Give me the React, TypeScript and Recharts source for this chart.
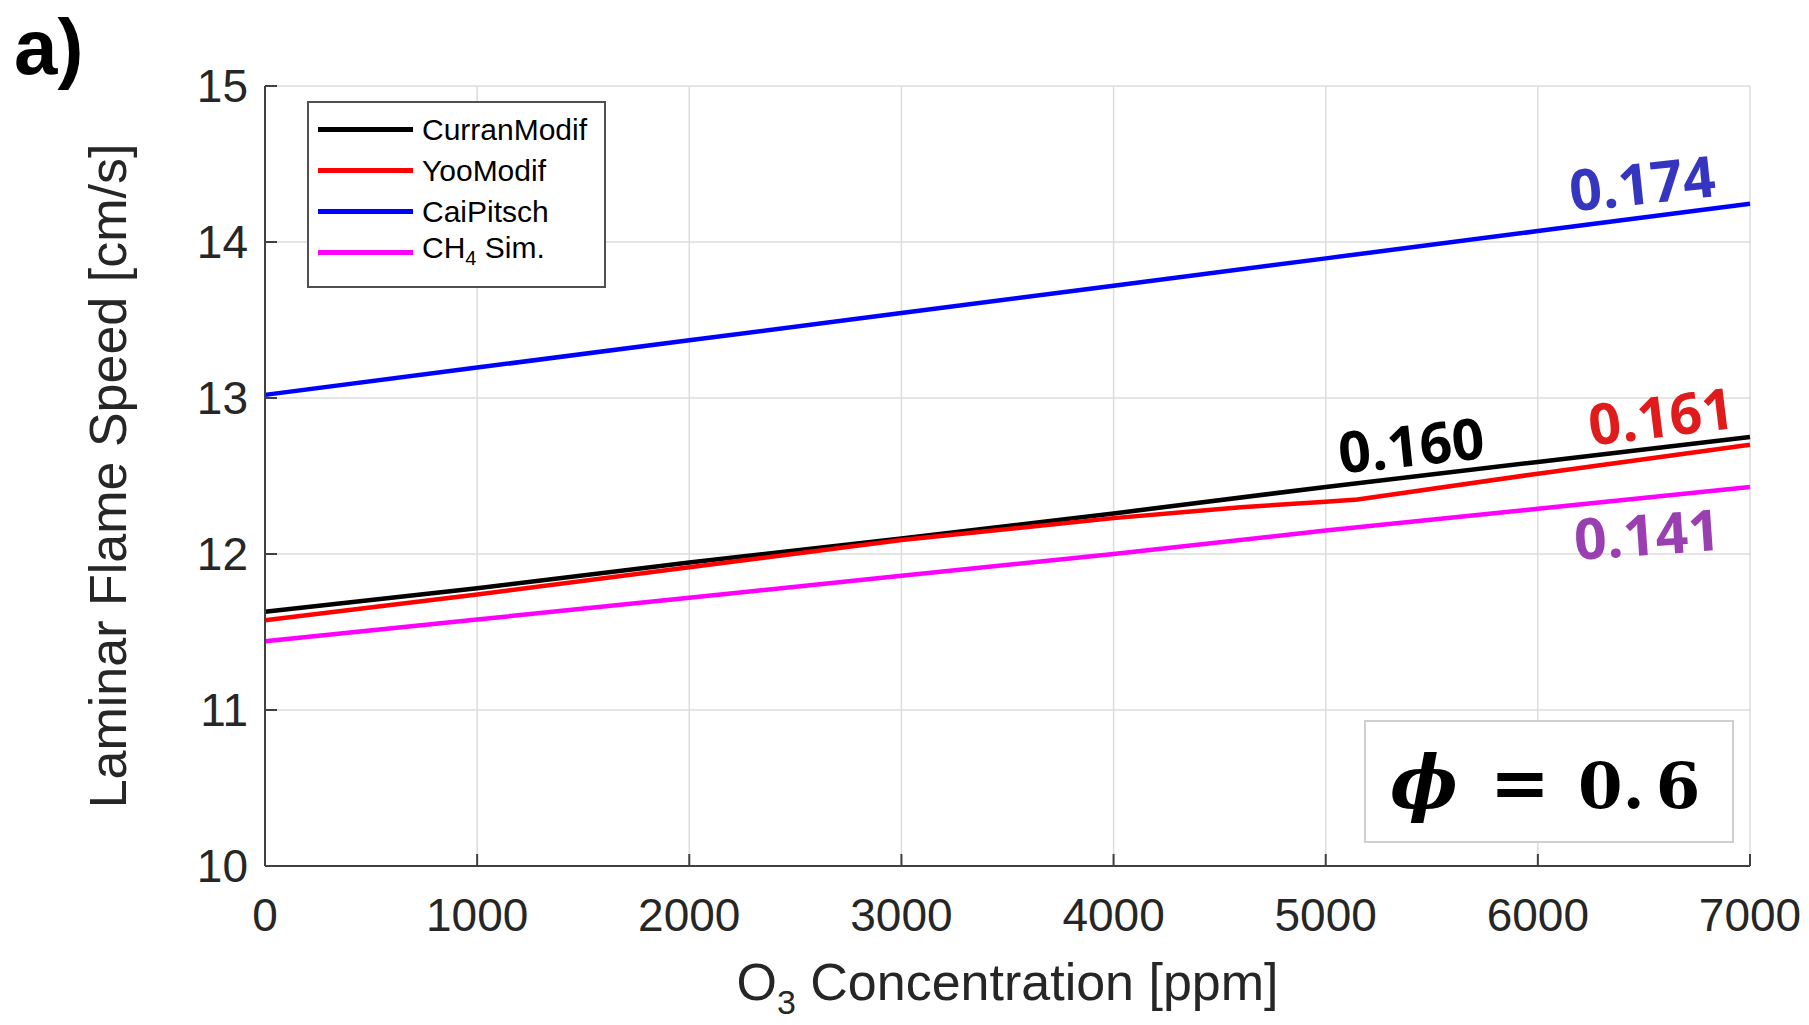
import { LineChart, Line, XAxis, YAxis, CartesianGrid, Legend, Label } from 'recharts';

// O3 concentration [ppm] and laminar flame speed [cm/s]
const o3Ppm = [0, 1000, 2000, 3000, 4000, 5000, 6000, 7000];
const curranModif = [11.63, 11.78, 11.945, 12.1, 12.26, 12.43, 12.59, 12.75];
const caiPitsch = [13.02, 13.195, 13.37, 13.545, 13.72, 13.895, 14.07, 14.245];
const ch4Sim = [11.44, 11.58, 11.72, 11.86, 12.0, 12.15, 12.29, 12.43];
const yooPpm = [0, 1000, 2000, 3000, 4000, 4600, 5000, 5150, 6000, 7000];
const yooModif = [11.575, 11.74, 11.915, 12.09, 12.23, 12.3, 12.335, 12.35, 12.515, 12.7];

const xTicks = [0, 1000, 2000, 3000, 4000, 5000, 6000, 7000];
const yTicks = [10, 11, 12, 13, 14, 15];

const seriesNames = ['CurranModif', 'YooModif', 'CaiPitsch', 'CH4 Sim.'];
const seriesColors = ['#000000', '#ff0000', '#0000ff', '#ff00ff'];
const slopeLabels = ['0.160', '0.161', '0.174', '0.141'];

const toPoints = (xs: number[], ys: number[]) => xs.map((x, i) => ({ x, y: ys[i] }));

const curranData = toPoints(o3Ppm, curranModif);
const yooData = toPoints(yooPpm, yooModif);
const caiData = toPoints(o3Ppm, caiPitsch);
const ch4Data = toPoints(o3Ppm, ch4Sim);

const AXIS = '#404040';
const TXT = '#262626';
const FONT = '"Liberation Sans", Arial, sans-serif';

const XTick = ({ x, y, payload }: any) => (
  <g>
    <line x1={x} x2={x} y1={y} y2={y - 12} stroke={AXIS} strokeWidth={2} />
    <text x={x} y={y + 65} textAnchor="middle" fontSize={46} fill={TXT} fontFamily={FONT}>
      {payload.value}
    </text>
  </g>
);

const YTick = ({ x, y, payload }: any) => (
  <g>
    <line x1={x} x2={x + 12} y1={y} y2={y} stroke={AXIS} strokeWidth={2} />
    <text x={x - 17} y={y + 16} textAnchor="end" fontSize={46} fill={TXT} fontFamily={FONT}>
      {payload.value}
    </text>
  </g>
);

const legendContent = ({ payload }: any) => {
  // keep the plotting order (Recharts sorts by name otherwise)
  const items = [...(payload || [])].sort(
    (a: any, b: any) => seriesNames.indexOf(a.value) - seriesNames.indexOf(b.value)
  );
  return (
    <div
      style={{
        width: 299,
        height: 187,
        boxSizing: 'border-box',
        border: '2px solid #505050',
        background: '#fff',
        paddingTop: 6,
        fontFamily: FONT,
        fontSize: 30,
        color: '#000',
      }}
    >
      {items.map((item: any) => {
        const name = String(item.value);
        return (
          <div key={name} style={{ display: 'flex', alignItems: 'center', height: 41 }}>
            <div style={{ width: 95, height: 5, background: item.color, marginLeft: 9 }} />
            <span style={{ marginLeft: 9, lineHeight: '41px' }}>
              {name.startsWith('CH4') ? (
                <>
                  CH<sub style={{ fontSize: 20 }}>4</sub>
                  {name.slice(3)}
                </>
              ) : (
                name
              )}
            </span>
          </div>
        );
      })}
    </div>
  );
};

export default function App() {
  const lines = [curranData, yooData, caiData, ch4Data];

  return (
    <div style={{ position: 'absolute', left: 0, top: 0, width: 1809, height: 1025, background: '#fff' }}>
      <LineChart width={1809} height={1025} margin={{ top: 86, right: 59, bottom: 99, left: 115 }}>
        <CartesianGrid stroke="#dcdcdc" strokeWidth={1.5} />
        <XAxis
          type="number"
          dataKey="x"
          domain={[0, 7000]}
          ticks={xTicks}
          height={60}
          tickSize={0}
          tickMargin={0}
          tickLine={false}
          tick={<XTick />}
          axisLine={{ stroke: AXIS, strokeWidth: 2 }}
          interval={0}
        >
          <Label
            content={({ viewBox }: any) => (
              <text
                x={viewBox.x + viewBox.width / 2}
                y={viewBox.y + 134}
                textAnchor="middle"
                fontSize={52}
                fill={TXT}
                fontFamily={FONT}
              >
                O<tspan fontSize={34} dy={14}>3</tspan>
                <tspan dy={-14}> Concentration [ppm]</tspan>
              </text>
            )}
          />
        </XAxis>
        <YAxis
          type="number"
          domain={[10, 15]}
          ticks={yTicks}
          width={150}
          tickSize={0}
          tickMargin={0}
          tickLine={false}
          tick={<YTick />}
          axisLine={{ stroke: AXIS, strokeWidth: 2 }}
          interval={0}
        >
          <Label
            content={({ viewBox }: any) => {
              const cx = 126;
              const cy = viewBox.y + viewBox.height / 2;
              return (
                <text
                  x={cx}
                  y={cy}
                  transform={`rotate(-90, ${cx}, ${cy})`}
                  textAnchor="middle"
                  fontSize={52}
                  fill={TXT}
                  fontFamily={FONT}
                >
                  Laminar Flame Speed [cm/s]
                </text>
              );
            }}
          />
        </YAxis>
        <Legend
          layout="vertical"
          align="center"
          verticalAlign="middle"
          content={legendContent}
          wrapperStyle={{ left: 307, top: 101, width: 299, height: 187 }}
        />
        {lines.map((d, i) => (
          <Line
            key={seriesNames[i]}
            data={d}
            dataKey="y"
            name={seriesNames[i]}
            stroke={seriesColors[i]}
            strokeWidth={4.5}
            dot={false}
            type="linear"
            isAnimationActive={false}
          />
        ))}
      </LineChart>

      <svg
        width={1809}
        height={1025}
        style={{ position: 'absolute', left: 0, top: 0, pointerEvents: 'none' }}
      >
        <text x={14} y={74} fontSize={78} fontWeight="bold" fontFamily={FONT} fill="#000">
          a)
        </text>

        {/* slope annotations */}
        {[
          { t: slopeLabels[2], x: 1642, y: 182, a: -6, c: '#3535c0' },
          { t: slopeLabels[0], x: 1411, y: 444, a: -6, c: '#000000' },
          { t: slopeLabels[1], x: 1661, y: 415, a: -7, c: '#e01b1b' },
          { t: slopeLabels[3], x: 1647, y: 533, a: -4, c: '#9a3fb0' },
        ].map((s) => (
          <text
            key={s.t}
            x={s.x}
            y={s.y}
            textAnchor="middle"
            dominantBaseline="central"
            fontSize={57}
            fontWeight={700}
            fontFamily='"Open Sans", sans-serif'
            fill={s.c}
            transform={`rotate(${s.a}, ${s.x}, ${s.y})`}
          >
            {s.t}
          </text>
        ))}

        {/* equivalence ratio box */}
        <rect x={1365} y={721} width={368} height={121} fill="#fff" stroke="#cfcfcf" strokeWidth={2} />
        <g fontFamily='"DejaVu Serif", "Liberation Serif", serif' fontWeight="bold" fontSize={64} fill="#000">
          <text x={1424} y={808} textAnchor="middle" fontStyle="italic" fontSize={72}>ϕ</text>
          <text x={1520} y={808} textAnchor="middle" fontSize={72}>=</text>
          <text x={1578} y={808}>0.</text>
          <text x={1678} y={808} textAnchor="middle">6</text>
        </g>
      </svg>
    </div>
  );
}
